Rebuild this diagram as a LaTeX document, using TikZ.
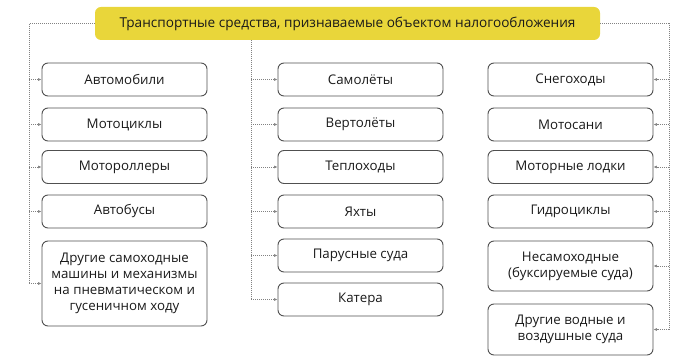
\documentclass[tikz,border=0pt]{standalone}
\usepackage{fontspec}
\setmainfont{Open Sans}
\usetikzlibrary{arrows.meta}
\definecolor{ttlyellow}{RGB}{233,214,58}
\definecolor{boxline}{RGB}{80,80,80}
\definecolor{connline}{RGB}{130,130,130}
\definecolor{txt}{RGB}{25,25,25}
\begin{document}
\begin{tikzpicture}[x=1pt,y=-1pt,
  item/.style={draw=boxline, line width=0.9pt, rounded corners=6pt, minimum width=165pt,
    minimum height=33pt, align=center, inner sep=2pt, text=txt,
    font=\fontsize{13.3}{15.8}\selectfont},
  ttl/.style={fill=ttlyellow, rounded corners=6pt, minimum width=505pt, minimum height=33pt,
    text=txt, inner sep=0pt, font=\fontsize{13.6}{15}\selectfont},
  conn/.style={draw=connline, line width=0.6pt, dash pattern=on 1pt off 1pt},
  arr/.style={conn, -{Latex[length=3.5pt,width=3pt]}}]
\useasboundingbox (0,0) rectangle (697,363);
\node[ttl] (title) at (347.5,23.5) {Транспортные средства, признаваемые объектом налогообложения};
% left column
\node[item] (l1) at (124.5,79.5) {Автомобили};
\node[item] (l2) at (124.5,124.5) {Мотоциклы};
\node[item] (l3) at (124.5,167) {Мотороллеры};
\node[item] (l4) at (124.5,211.5) {Автобусы};
\node[item, minimum height=85pt] (l5) at (124.5,283.5) {Другие самоходные\\машины и механизмы\\на пневматическом и\\гусеничном ходу};
% middle column
\node[item] (m1) at (360.5,79.5) {Самолёты};
\node[item] (m2) at (360.5,124.5) {Вертолёты};
\node[item] (m3) at (360.5,167) {Теплоходы};
\node[item] (m4) at (360.5,211.5) {Яхты};
\node[item] (m5) at (360.5,255.5) {Парусные суда};
\node[item] (m6) at (360.5,299.5) {Катера};
% right column
\node[item] (r1) at (570.5,79.5) {Снегоходы};
\node[item] (r2) at (570.5,124.5) {Мотосани};
\node[item] (r3) at (570.5,167) {Моторные лодки};
\node[item] (r4) at (570.5,211.5) {Гидроциклы};
\node[item, minimum height=50pt] (r5) at (570.5,266) {Несамоходные\\(буксируемые суда)};
\node[item, minimum height=51pt] (r6) at (570.5,329.5) {Другие водные и\\воздушные суда};
% trunks
\coordinate (lt) at (29,23.5);
\coordinate (mt) at (251,40);
\coordinate (rt) at (669,23.5);
\draw[conn] (title.west) -- (lt) -- (lt |- l5.west);
\draw[conn] (mt) -- (mt |- m6.west);
\draw[conn] (title.east) -- (rt) -- (rt |- r6.east);
% branches
\foreach \n in {l1,l2,l3,l4,l5} \draw[arr] (lt |- \n.west) -- (\n.west);
\foreach \n in {m1,m2,m3,m4,m5,m6} \draw[arr] (mt |- \n.west) -- (\n.west);
\foreach \n in {r1,r2,r3,r4,r5,r6} \draw[arr] (rt |- \n.east) -- (\n.east);
\end{tikzpicture}
\end{document}
